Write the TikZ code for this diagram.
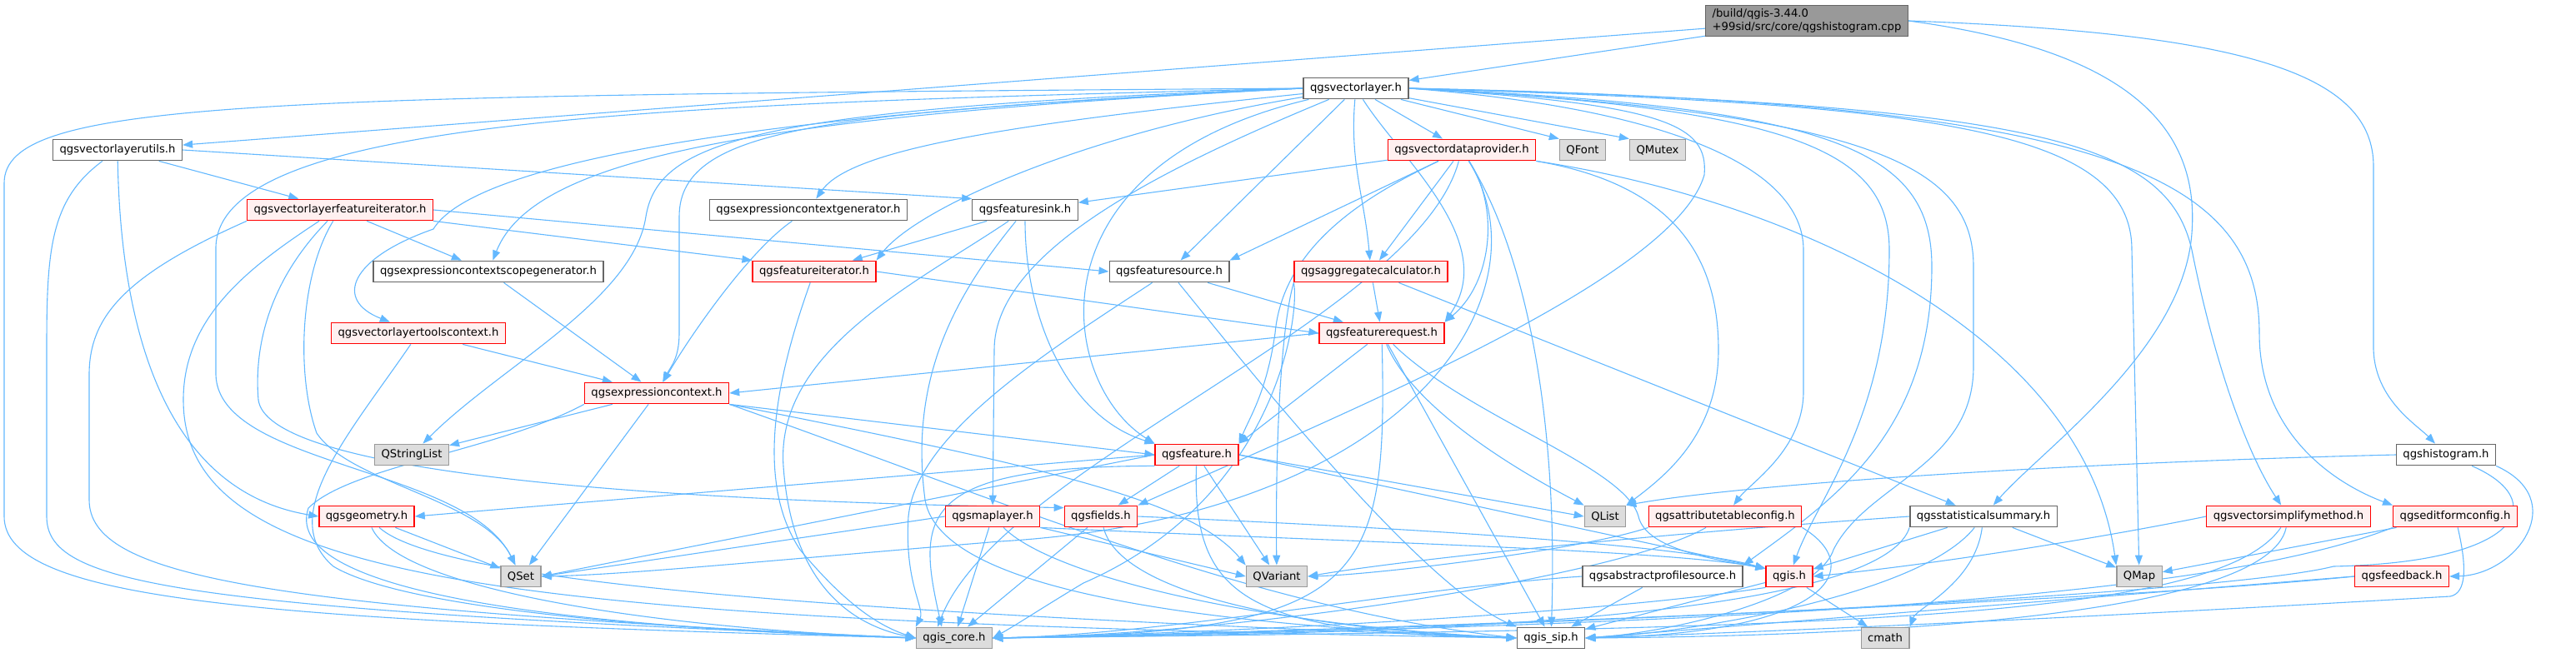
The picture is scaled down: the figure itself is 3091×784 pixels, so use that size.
\documentclass[tikz,border=0pt]{standalone}
\usepackage{fontspec}
\setmainfont{DejaVu Sans}
\usetikzlibrary{arrows.meta,backgrounds}
\definecolor{edgeblue}{HTML}{63B8FF}
\definecolor{grey40}{HTML}{666666}
\definecolor{grey60}{HTML}{999999}
\definecolor{grey87}{HTML}{DDDDDD}
\definecolor{pinkfill}{HTML}{FFF0F0}
\tikzset{
  hfile/.style={draw=grey40, fill=white, line width=1.3pt, inner xsep=8pt, inner ysep=0pt, minimum height=25.5pt, font=\fontsize{13.2}{16}\selectfont},
  trunc/.style={hfile, draw=red, fill=pinkfill},
  qtfile/.style={hfile, draw=grey60, fill=grey87},
  rootfile/.style={hfile, fill=grey60, align=left, inner ysep=4pt},
  dep/.style={draw=edgeblue, line width=1.1pt, -{Triangle[length=12pt,width=9pt]}}
}
\begin{document}
\begin{tikzpicture}[x=1pt,y=-1pt]
\useasboundingbox (0,0) rectangle (3091,784);
\node[rootfile] (root) at (2168,25) {/build/qgis-3.44.0\\+99sid/src/core/qgshistogram.cpp};
\node[hfile] (vl) at (1627,106) {qgsvectorlayer.h};
\node[hfile] (vlu) at (141,180) {qgsvectorlayerutils.h};
\node[trunc] (vdp) at (1754,180) {qgsvectordataprovider.h};
\node[qtfile] (qfont) at (1899,180) {QFont};
\node[qtfile] (qmutex) at (1989,180) {QMutex};
\node[trunc] (vlfi) at (408,252) {qgsvectorlayerfeatureiterator.h};
\node[hfile] (ecg) at (970,252) {qgsexpressioncontextgenerator.h};
\node[hfile] (fsink) at (1230,252) {qgsfeaturesink.h};
\node[hfile] (ecsg) at (586,326) {qgsexpressioncontextscopegenerator.h};
\node[trunc] (fit) at (977,326) {qgsfeatureiterator.h};
\node[hfile] (fsrc) at (1403,326) {qgsfeaturesource.h};
\node[trunc] (aggc) at (1645,326) {qgsaggregatecalculator.h};
\node[trunc] (vltc) at (502,400) {qgsvectorlayertoolscontext.h};
\node[trunc] (freq) at (1658,400) {qgsfeaturerequest.h};
\node[trunc] (ectx) at (788,472) {qgsexpressioncontext.h};
\node[qtfile] (qsl) at (494,546) {QStringList};
\node[trunc] (feat) at (1436,546) {qgsfeature.h};
\node[hfile] (hist) at (2935,546) {qgshistogram.h};
\node[trunc] (geom) at (440,620) {qgsgeometry.h};
\node[trunc] (mlay) at (1191,620) {qgsmaplayer.h};
\node[trunc] (flds) at (1321,620) {qgsfields.h};
\node[qtfile] (qlist) at (1926,620) {QList};
\node[trunc] (atc) at (2070,620) {qgsattributetableconfig.h};
\node[hfile] (stat) at (2380,620) {qgsstatisticalsummary.h};
\node[trunc] (vsm) at (2746,620) {qgsvectorsimplifymethod.h};
\node[trunc] (efc) at (2946,620) {qgseditformconfig.h};
\node[qtfile] (qset) at (625,692) {QSet};
\node[qtfile] (qvar) at (1532,692) {QVariant};
\node[hfile] (aps) at (1995,692) {qgsabstractprofilesource.h};
\node[trunc] (qgis) at (2147,692) {qgis.h};
\node[qtfile] (qmap) at (2567,692) {QMap};
\node[trunc] (fb) at (2882,692) {qgsfeedback.h};
\node[qtfile] (core) at (1145,766) {qgis\_core.h};
\node[hfile] (sip) at (1861,766) {qgis\_sip.h};
\node[qtfile] (cmath) at (2262,766) {cmath};
\begin{scope}[on background layer]
% root
\draw[dep] (root) -- (vl);
\draw[dep] (root) -- (vlu);
\draw[dep] (root.east) .. controls (2700,40) and (2848,90) .. (2848,200) -- (2848,420) .. controls (2850,480) and (2900,510) .. (hist);
\draw[dep] (root.east) .. controls (2550,60) and (2640,150) .. (2630,280) .. controls (2620,420) and (2450,540) .. (stat);
% qgsvectorlayerutils.h
\draw[dep] (vlu) -- (vlfi);
\draw[dep] (vlu.east) -- (fsink.north west);
\draw[dep] (vlu) .. controls (145,400) and (200,590) .. (geom.west);
\draw[dep] (vlu) .. controls (60,240) and (56,300) .. (56,420) -- (56,620) .. controls (56,700) and (200,730) .. (core.west);
% qgsvectorlayer.h
\draw[dep] (vl.west) .. controls (300,115) and (5,120) .. (5,220) -- (5,620) .. controls (5,720) and (300,745) .. (core.west);
\draw[dep] (vl.west) .. controls (800,125) and (255,140) .. (259,300) -- (259,450) .. controls (262,560) and (560,560) .. (qset);
\draw[dep] (vl) -- (vdp);
\draw[dep] (vl) -- (qfont.north west);
\draw[dep] (vl) -- (qmutex.north west);
\draw[dep] (vl) .. controls (1200,150) and (1020,180) .. (ecg);
\draw[dep] (vl.west) .. controls (900,140) and (640,190) .. (ecsg);
\draw[dep] (vl.west) .. controls (800,140) and (560,210) .. (520,275) .. controls (420,310) and (400,360) .. (vltc);
\draw[dep] (vl.west) .. controls (900,130) and (790,170) .. (775,260) .. controls (760,360) and (600,440) .. (qsl);
\draw[dep] (vl.west) .. controls (1000,135) and (815,150) .. (815,260) -- (815,400) .. controls (815,430) and (805,440) .. (ectx);
\draw[dep] (vl) -- (fsrc);
\draw[dep] (vl) .. controls (1300,160) and (1100,250) .. (fit.north east);
\draw[dep] (vl) .. controls (1400,200) and (1193,300) .. (1193,420) -- (mlay);
\draw[dep] (vl) .. controls (1230,200) and (1270,460) .. (feat.north west);
\draw[dep] (vl) .. controls (1680,190) and (1800,290) .. (freq.north east);
\draw[dep] (vl) to[out=-95,in=95] (aggc);
\draw[dep] (vl.east) .. controls (2000,130) and (2164,200) .. (2164,300) -- (2164,470) .. controls (2164,540) and (2100,580) .. (atc);
\draw[dep] (vl.east) .. controls (2000,125) and (2050,150) .. (2045,210) .. controls (2010,330) and (1650,480) .. (flds.north east);
\draw[dep] (vl.east) .. controls (2300,125) and (2558,150) .. (2558,300) -- (qmap);
\draw[dep] (vl.east) .. controls (2450,125) and (2600,170) .. (2630,300) .. controls (2660,450) and (2700,550) .. (vsm);
\draw[dep] (vl.east) .. controls (2500,122) and (2711,200) .. (2711,400) .. controls (2711,520) and (2800,580) .. (efc.north west);
\draw[dep] (vl.east) .. controls (2150,130) and (2267,180) .. (2267,300) .. controls (2267,500) and (2180,600) .. (qgis);
\draw[dep] (vl.east) .. controls (2200,128) and (2318,180) .. (2318,320) .. controls (2318,520) and (2200,600) .. (aps.north east);
\draw[dep] (vl.east) .. controls (2250,135) and (2368,200) .. (2368,320) -- (2368,440) .. controls (2368,560) and (2240,580) .. (2200,660) .. controls (2180,720) and (2000,760) .. (sip.east);
% qgsvectordataprovider.h
\draw[dep] (vdp) -- (fsink);
\draw[dep] (vdp) -- (fsrc.north east);
\draw[dep] (vdp) -- (aggc);
\draw[dep] (vdp) .. controls (1800,250) and (1790,340) .. (freq.north east);
\draw[dep] (vdp) .. controls (1650,230) and (1540,290) .. (1530,400) .. controls (1520,470) and (1500,500) .. (feat.north east);
\draw[dep] (vdp.south east) .. controls (2000,220) and (2062,300) .. (2062,420) .. controls (2062,520) and (2000,570) .. (qlist.north east);
\draw[dep] (vdp) .. controls (1860,350) and (1700,620) .. (1200,650) .. controls (900,675) and (750,690) .. (qset.east);
\draw[dep] (vdp.south east) .. controls (2150,240) and (2500,400) .. (qmap.north west);
\draw[dep] (vdp) .. controls (1700,380) and (1200,560) .. ([xshift=-20pt]core.north);
\draw[dep] (vdp) .. controls (1830,300) and (1870,500) .. (sip);
% qgsaggregatecalculator.h
\draw[dep] (aggc) -- (freq);
\draw[dep] (aggc) -- (stat);
\draw[dep] (aggc.south west) .. controls (1540,380) and (1530,500) .. (qvar);
\draw[dep] (aggc.south west) .. controls (1560,380) and (1530,600) .. (1300,700) .. controls (1250,730) and (1220,750) .. (core.east);
% qgsfeaturerequest.h
\draw[dep] (freq) -- (feat.north east);
\draw[dep] (freq.west) -- (ectx.east);
\draw[dep] (freq) .. controls (1700,500) and (1850,580) .. (qlist);
\draw[dep] (freq) -- (sip);
\draw[dep] (freq) .. controls (1665,700) and (1640,760) .. (core.east);
\draw[dep] (freq) .. controls (1760,500) and (1950,560) .. (1966,620) .. controls (1975,660) and (2060,672) .. ([yshift=-4pt]qgis.north west);
% qgsfeature.h
\draw[dep] (feat) -- (flds);
\draw[dep] (feat) -- (qvar);
\draw[dep] (feat.west) -- (geom.east);
\draw[dep] (feat.west) -- (qset.east);
\draw[dep] (feat.south west) .. controls (1100,560) and (1100,620) .. ([xshift=-15pt]core.north);
\draw[dep] (feat.east) -- (qlist.west);
\draw[dep] (feat.east) -- ([yshift=-4pt]qgis.north west);
\draw[dep] (feat) .. controls (1430,720) and (1500,760) .. (sip.west);
% qgsmaplayer.h
\draw[dep] (mlay.west) -- (qset.east);
\draw[dep] (mlay) -- (core);
\draw[dep] (mlay) .. controls (1260,690) and (1500,750) .. (sip.west);
\draw[dep] (mlay.south east) -- (qvar.west);
\draw[dep] (mlay.south east) .. controls (1600,650) and (2000,660) .. ([yshift=-4pt]qgis.north west);
% qgsfields.h
\draw[dep] (flds) -- (core);
\draw[dep] (flds) .. controls (1340,700) and (1500,752) .. (sip.west);
\draw[dep] (flds.east) .. controls (1600,630) and (2000,650) .. ([yshift=-4pt]qgis.north west);
% qgsfeaturesink.h
\draw[dep] (fsink) -- (fit);
\draw[dep] (fsink) .. controls (1230,380) and (1280,500) .. (feat.north west);
\draw[dep] (fsink) .. controls (1100,340) and (930,420) .. (940,560) .. controls (950,700) and (1020,750) .. (core.west);
\draw[dep] (fsink) .. controls (1150,350) and (1090,450) .. (1110,600) .. controls (1130,720) and (1500,752) .. (sip.west);
% qgsfeatureiterator.h
\draw[dep] (fit.east) -- (freq.west);
\draw[dep] (fit) .. controls (940,430) and (900,570) .. (960,660) .. controls (1010,720) and (1050,750) .. (core.west);
% qgsfeaturesource.h
\draw[dep] (fsrc) -- (freq);
\draw[dep] (fsrc) .. controls (1260,420) and (1100,520) .. (1090,620) .. controls (1085,700) and (1110,730) .. (core.north west);
\draw[dep] (fsrc) .. controls (1480,420) and (1700,700) .. (sip.north west);
% qgsexpressioncontext.h
\draw[dep] (ectx) -- (qsl);
\draw[dep] (ectx) -- (qset);
\draw[dep] (ectx.south east) -- (feat.west);
\draw[dep] (ectx.south east) .. controls (1250,560) and (1430,600) .. (qvar.north west);
\draw[dep] (ectx.south west) .. controls (600,540) and (420,560) .. (370,610) .. controls (340,700) and (600,750) .. (core.west);
\draw[dep] (ectx.south east) .. controls (1200,600) and (1500,730) .. (sip.west);
% qgsgeometry.h
\draw[dep] (geom) -- (qset);
\draw[dep] (geom) .. controls (480,710) and (800,755) .. (core.west);
\draw[dep] (geom) .. controls (530,700) and (1000,735) .. (sip.west);
% qgsvectorlayertoolscontext.h and generators
\draw[dep] (vltc) -- (ectx);
\draw[dep] (vltc) .. controls (420,520) and (330,620) .. (400,680) .. controls (500,740) and (900,760) .. (core.west);
\draw[dep] (ecsg) -- (ectx);
\draw[dep] (ecg) .. controls (900,300) and (830,400) .. (ectx);
% qgsvectorlayerfeatureiterator.h
\draw[dep] (vlfi) -- (ecsg);
\draw[dep] (vlfi.south east) -- (fit.north west);
\draw[dep] (vlfi.east) -- (fsrc.west);
\draw[dep] ([xshift=-15pt]vlfi.south) .. controls (320,340) and (305,420) .. (310,480) .. controls (320,560) and (700,600) .. ([yshift=-3pt]flds.north west);
\draw[dep] (vlfi) .. controls (360,330) and (355,450) .. (380,520) .. controls (420,580) and (580,600) .. (qset);
\draw[dep] (vlfi.south west) .. controls (150,330) and (107,380) .. (107,450) -- (107,600) .. controls (107,690) and (300,730) .. (core.west);
\draw[dep] ([xshift=-25pt]vlfi.south) .. controls (300,320) and (220,380) .. (220,480) .. controls (220,700) and (600,745) .. (sip.west);
% qgsstatisticalsummary.h
\draw[dep] (stat.west) .. controls (2000,640) and (1700,670) .. (qvar.east);
\draw[dep] (stat) -- (qgis);
\draw[dep] (stat) -- (qmap);
\draw[dep] (stat) .. controls (2370,700) and (2300,730) .. (cmath.north east);
\draw[dep] (stat.south west) .. controls (2250,760) and (1500,762) .. (core.east);
\draw[dep] (stat) .. controls (2300,720) and (2000,762) .. (sip.east);
% qgis.h
\draw[dep] (qgis) -- (cmath);
\draw[dep] (qgis) -- (sip);
\draw[dep] (qgis.south west) .. controls (1900,740) and (1400,762) .. (core.east);
% qgsabstractprofilesource.h
\draw[dep] (aps.west) .. controls (1700,705) and (1400,762) .. (core.east);
\draw[dep] (aps) -- (sip);
% qgsattributetableconfig.h
\draw[dep] (atc.south west) .. controls (1900,660) and (1650,690) .. (qvar.east);
\draw[dep] (atc) .. controls (1950,690) and (1500,762) .. (core.east);
\draw[dep] (atc.south east) .. controls (2240,680) and (2200,760) .. (sip.east);
% qgsvectorsimplifymethod.h
\draw[dep] (vsm.west) .. controls (2500,650) and (2300,680) .. (qgis.east);
\draw[dep] (vsm) .. controls (2660,745) and (2200,755) .. (core.east);
\draw[dep] (vsm) .. controls (2720,745) and (2200,764) .. (sip.east);
% qgseditformconfig.h
\draw[dep] (efc) -- (qmap);
\draw[dep] (efc.south west) .. controls (2700,700) and (2300,748) .. (core.east);
\draw[dep] (efc) .. controls (2960,680) and (2960,712) .. (2940,716) .. controls (2700,730) and (2300,752) .. (sip.east);
% qgsfeedback.h
\draw[dep] (fb.west) .. controls (2500,725) and (1600,758) .. (core.east);
\draw[dep] (fb.west) -- (sip.east);
% qgshistogram.h
\draw[dep] (hist.west) .. controls (2500,555) and (2100,580) .. (qlist.north east);
\draw[dep] (hist.south east) .. controls (3085,600) and (3020,690) .. (fb.east);
\draw[dep] (hist) .. controls (3060,600) and (3030,675) .. (2800,680) .. controls (2650,718) and (1700,758) .. (core.east);
\end{scope}
\end{tikzpicture}
\end{document}
